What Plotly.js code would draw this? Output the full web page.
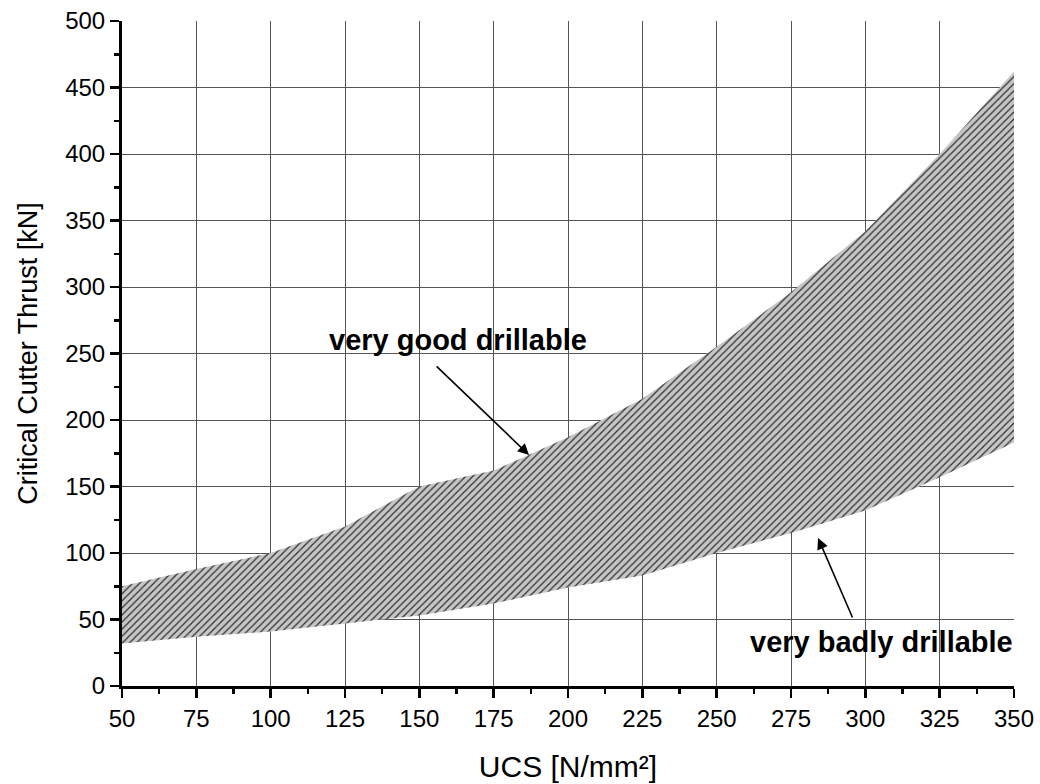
<!DOCTYPE html>
<html>
<head>
<meta charset="utf-8">
<script src="https://cdn.plot.ly/plotly-3.0.1.min.js"></script>
<style>html,body{margin:0;padding:0;background:#fff;}#chart{width:1040px;height:784px;}</style>
</head>
<body>
<div id="chart"></div>
<script>
const ucs = [50, 75, 100, 125, 150, 175, 200, 225, 250, 275, 300, 325, 350];
const upperThrust = [75, 88, 100, 120, 150, 162, 187, 216, 255, 296, 342, 400, 462];
const lowerThrust = [32, 37, 41, 47, 53, 62, 74, 83, 100, 115, 132, 157, 183];
const xTicks = [50, 75, 100, 125, 150, 175, 200, 225, 250, 275, 300, 325, 350];
const yTicks = [0, 50, 100, 150, 200, 250, 300, 350, 400, 450, 500];
const labelGood = "very good drillable";
const labelBad = "very badly drillable";

const traces = [
  {x: ucs, y: lowerThrust, type: 'scatter', mode: 'lines', line: {width: 0, color: 'rgba(0,0,0,0)'}, hoverinfo: 'skip', showlegend: false},
  {x: ucs, y: upperThrust, type: 'scatter', mode: 'lines', fill: 'tonexty',
   fillcolor: '#c4c4c4',
   fillpattern: {shape: '/', bgcolor: '#c6c6c6', fgcolor: '#303030', size: 5, solidity: 0.25},
   line: {width: 0, color: 'rgba(0,0,0,0)'}, showlegend: false}
];

const fam = '"Liberation Sans", Arial, sans-serif';
const layout = {
  width: 1040, height: 784,
  margin: {l: 122, r: 26, t: 21, b: 98},
  paper_bgcolor: '#fff', plot_bgcolor: '#fff',
  showlegend: false,
  font: {family: fam, color: '#000'},
  xaxis: {
    range: [50, 350], tickvals: xTicks, ticktext: xTicks.map(String),
    showgrid: true, gridcolor: '#555', gridwidth: 1,
    showline: true, linecolor: '#000', linewidth: 3,
    ticks: 'outside', ticklen: 9, tickwidth: 2.5, tickcolor: '#000',
    minor: {dtick: 12.5, tick0: 50, ticks: 'outside', ticklen: 5, tickwidth: 2.5, tickcolor: '#000', showgrid: false},
    tickfont: {size: 24, family: fam, color: '#000'},
    zeroline: false,
    title: {text: 'UCS [N/mm²]', font: {size: 30, family: fam, color: '#000'}, standoff: 26}
  },
  yaxis: {
    range: [0, 500], tickvals: yTicks, ticktext: yTicks.map(String),
    showgrid: true, gridcolor: '#555', gridwidth: 1,
    showline: true, linecolor: '#000', linewidth: 3,
    ticks: 'outside', ticklen: 9, tickwidth: 2.5, tickcolor: '#000',
    minor: {dtick: 25, tick0: 0, ticks: 'outside', ticklen: 5, tickwidth: 2.5, tickcolor: '#000', showgrid: false},
    tickfont: {size: 24, family: fam, color: '#000'},
    zeroline: false,
    title: {text: 'Critical Cutter Thrust [kN]', font: {size: 27, family: fam, color: '#000'}, standoff: 20}
  },
  annotations: [
    {x: 163, y: 260, xref: 'x', yref: 'y', text: '<b>' + labelGood + '</b>', showarrow: false,
     font: {size: 29, family: fam, color: '#000'}, xanchor: 'center', yanchor: 'middle'},
    {x: 305.3, y: 33, xref: 'x', yref: 'y', text: '<b>' + labelBad + '</b>', showarrow: false,
     font: {size: 29, family: fam, color: '#000'}, xanchor: 'center', yanchor: 'middle'},
    {x: 186.9, y: 173.7, xref: 'x', yref: 'y', ax: 155.3, ay: 241.4, axref: 'x', ayref: 'y',
     text: '', showarrow: true, arrowhead: 2, arrowsize: 1.4, arrowwidth: 1.6, arrowcolor: '#000'},
    {x: 284.1, y: 111.3, xref: 'x', yref: 'y', ax: 295.9, ay: 50.4, axref: 'x', ayref: 'y',
     text: '', showarrow: true, arrowhead: 2, arrowsize: 1.4, arrowwidth: 1.6, arrowcolor: '#000'}
  ]
};

Plotly.newPlot('chart', traces, layout, {staticPlot: true, displayModeBar: false});
</script>
</body>
</html>
